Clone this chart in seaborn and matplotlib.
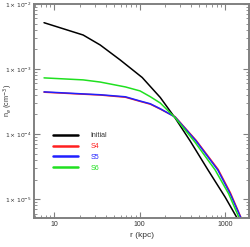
import numpy as np
import pandas as pd
import matplotlib
matplotlib.use("Agg")
import matplotlib.pyplot as plt
import matplotlib.ticker as ticker
import seaborn as sns

# radius (kpc) and electron density (cm^-3)
r_init = [7.6, 21.8, 34.5, 59, 107, 174, 260, 390, 630, 1000, 1380]
ne_init = [5.15e-3, 3.33e-3, 2.34e-3, 1.38e-3, 7.4e-4, 3.65e-4, 1.76e-4, 7.8e-5, 2.8e-5, 1.07e-5, 5.1e-6]

r_s4 = [7.6, 21.8, 34.5, 68, 101, 133, 174, 260, 457, 828, 1150, 1540]
ne_s4 = [4.40e-4, 4.10e-4, 3.98e-4, 3.68e-4, 3.18e-4, 2.88e-4, 2.42e-4, 1.84e-4, 8.0e-5, 2.85e-5, 1.25e-5, 5.1e-6]

r_s5 = [7.6, 21.8, 34.5, 68, 101, 133, 174, 260, 457, 820, 1140, 1530]
ne_s5 = [4.45e-4, 4.14e-4, 4.02e-4, 3.74e-4, 3.22e-4, 2.92e-4, 2.45e-4, 1.82e-4, 7.8e-5, 2.8e-5, 1.22e-5, 5.1e-6]

r_s6 = [7.6, 21.8, 34.5, 68, 101, 133, 174, 260, 440, 764, 1100, 1460]
ne_s6 = [7.3e-4, 6.8e-4, 6.3e-4, 5.3e-4, 4.6e-4, 3.75e-4, 3.0e-4, 1.78e-4, 7.6e-5, 2.8e-5, 1.2e-5, 5.1e-6]

labels = ["Initial", "S4", "S5", "S6"]
colors = {"Initial": "black", "S4": "#ff2020", "S5": "#2020ff", "S6": "#20e020"}

frames = []
for name, r, ne in zip(labels, [r_init, r_s4, r_s5, r_s6], [ne_init, ne_s4, ne_s5, ne_s6]):
    frames.append(pd.DataFrame({"r": r, "ne": ne, "run": name}))
df = pd.concat(frames, ignore_index=True)

sns.set_style("ticks")
plt.rcParams['font.family'] = ['Liberation Sans', 'DejaVu Sans']

fig = plt.figure(figsize=(2.5, 2.47), dpi=100)
ax = fig.add_axes([0.136, 0.117, 0.86, 0.867])

sns.lineplot(data=df, x="r", y="ne", hue="run", palette=colors, sort=False,
             estimator=None, linewidth=1.1, ax=ax, legend=False)

ax.set_xscale("log")
ax.set_yscale("log")
ax.set_xlim(5.8, 1900)
ax.set_ylim(5.1e-6, 1e-2)

# IDL style tick labels
def sci(v, pos):
    e = int(round(np.log10(v)))
    return r'$1\times10^{%d}$' % e
ax.yaxis.set_major_formatter(ticker.FuncFormatter(sci))
ax.xaxis.set_major_formatter(ticker.FuncFormatter(lambda v, p: '%d' % v))
ax.yaxis.set_minor_formatter(ticker.NullFormatter())
ax.xaxis.set_minor_formatter(ticker.NullFormatter())
ax.yaxis.set_major_locator(ticker.LogLocator(base=10, numticks=10))
ax.yaxis.set_minor_locator(ticker.LogLocator(base=10, subs=np.arange(2, 10), numticks=20))

ax.tick_params(which="both", direction="in", top=True, right=True,
               color="#808080", labelcolor="#333333", pad=2)
ax.tick_params(axis="y", labelsize=4.3)
ax.tick_params(axis="x", labelsize=5)
ax.tick_params(which="major", length=4, width=0.8)
ax.tick_params(which="minor", length=2, width=0.6)
for s in ax.spines.values():
    s.set_color("#808080")
    s.set_linewidth(1.4)

ax.set_xlabel("r (kpc)", fontsize=6, color="#333333", labelpad=3)
ax.set_ylabel(r"n$_e$ (cm$^{-3}$)", fontsize=5.2, color="#333333")
ax.yaxis.set_label_coords(-0.088, 0.55)

handles = [plt.Line2D([], [], color=colors[n], linewidth=1.8) for n in labels]
leg = ax.legend(handles, labels, loc="upper left", bbox_to_anchor=(0.06, 0.43),
                frameon=False, fontsize=5, handlelength=3.6, handletextpad=1.8,
                labelspacing=0.55)
for t, n in zip(leg.get_texts(), labels):
    t.set_color(colors[n] if n != "Initial" else "#333333")

fig.savefig("out.png", dpi=100)
